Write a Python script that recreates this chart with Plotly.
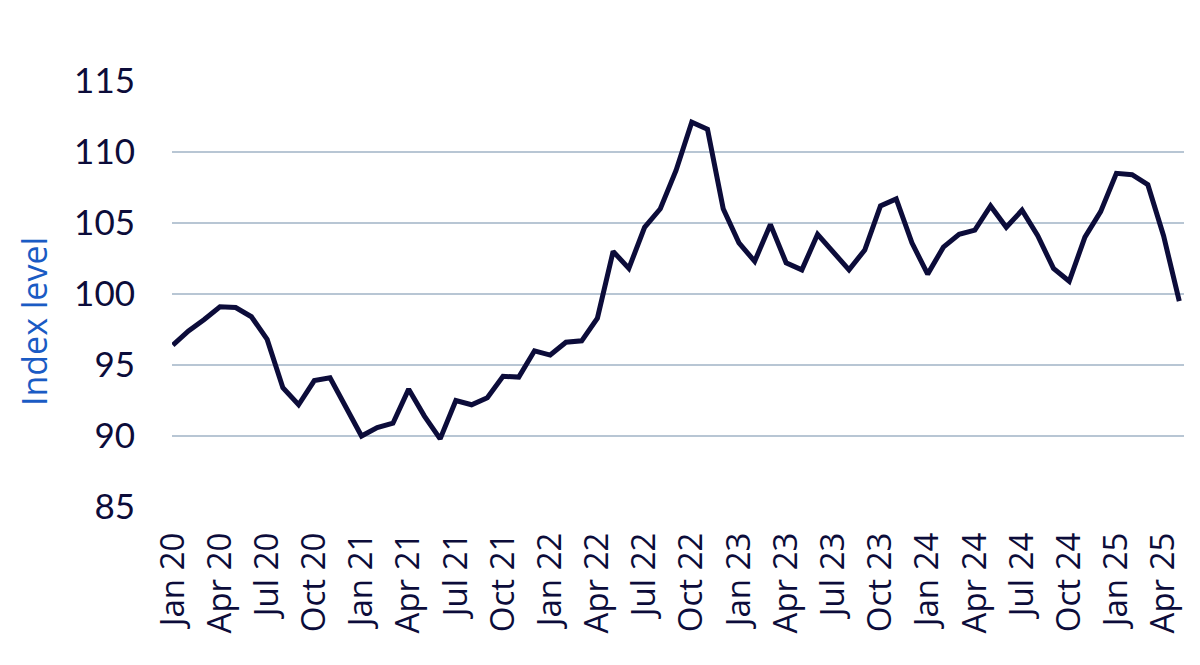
import plotly.graph_objects as go

months = ["Jan", "Feb", "Mar", "Apr", "May", "Jun", "Jul", "Aug", "Sep", "Oct", "Nov", "Dec"]
categories = [f"{m} {y}" for y in range(20, 26) for m in months][:65]

index_level = [
    96.4, 97.4, 98.2, 99.1, 99.05, 98.4, 96.8, 93.4, 92.2, 93.9, 94.1, 92.0,   # 2020
    90.0, 90.6, 90.9, 93.3, 91.4, 89.8, 92.5, 92.2, 92.7, 94.2, 94.15, 96.0,   # 2021
    95.7, 96.6, 96.7, 98.3, 103.0, 101.8, 104.7, 106.0, 108.7, 112.1, 111.6, 106.0,  # 2022
    103.6, 102.3, 104.9, 102.2, 101.7, 104.2, 103.0, 101.7, 103.1, 106.2, 106.7, 103.6,  # 2023
    101.4, 103.3, 104.2, 104.5, 106.2, 104.7, 105.9, 104.1, 101.8, 100.9, 104.0, 105.8,  # 2024
    108.5, 108.4, 107.7, 104.1, 99.5,  # 2025
]

tick_labels = categories[::3]
y_ticks = [85, 90, 95, 100, 105, 110, 115]

NAVY = "#0c0c3a"
GRID = "#b8c6d4"
FONT = "Lato, 'Open Sans', sans-serif"
XFONT = "'Open Sans', 'Noto Sans', sans-serif"

fig = go.Figure()
fig.add_trace(go.Scatter(
    x=categories, y=index_level, mode="lines",
    line=dict(color=NAVY, width=5), hoverinfo="x+y", showlegend=False,
))

fig.update_layout(
    width=1200, height=665,
    margin=dict(l=172, r=16, t=81, b=158),
    paper_bgcolor="white", plot_bgcolor="white",
    font=dict(family=FONT, color=NAVY),
)
fig.update_xaxes(
    type="category", categoryorder="array", categoryarray=categories,
    range=[-0.05, 64.3],
    tickmode="array", tickvals=tick_labels, ticktext=tick_labels,
    tickangle=-90, tickfont=dict(size=33, color=NAVY, family=XFONT),
    showgrid=False, zeroline=False, showline=False, ticks="",
    ticklabelstandoff=18,
)
fig.update_yaxes(
    range=[85, 115], tickvals=y_ticks, ticktext=[str(v) for v in y_ticks],
    tickfont=dict(size=35, color=NAVY, family=FONT),
    showgrid=True, gridcolor=GRID, gridwidth=2, zeroline=False, showline=False,
    ticks="", ticklabelstandoff=36,
)
fig.add_annotation(
    text="Index level", xref="paper", yref="paper",
    x=-172/1012 + 34/1012, xanchor="center", y=0.434, yanchor="middle",
    textangle=-90, showarrow=False,
    font=dict(size=34, color="#1a5bc4", family=XFONT),
)

fig.write_html("out.html")
